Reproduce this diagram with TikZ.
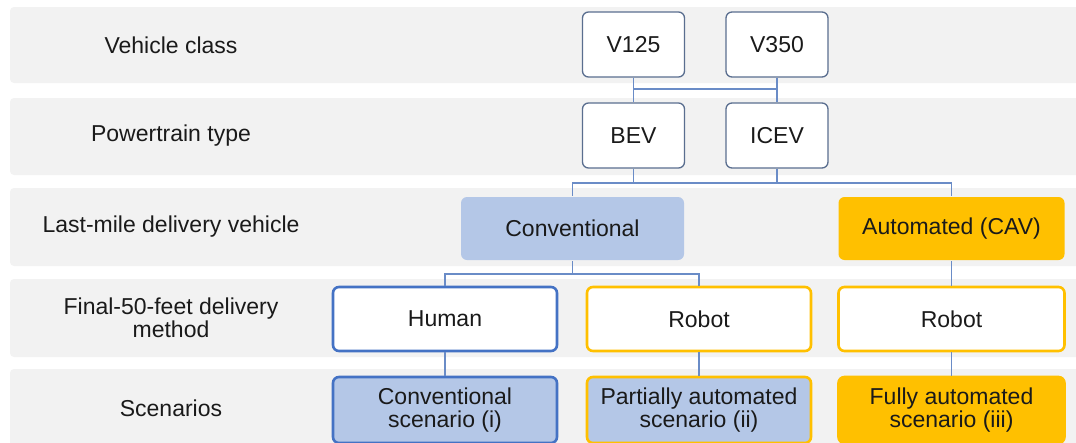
\documentclass[tikz,border=0pt]{standalone}
\usepackage{fontspec}
\setmainfont{Liberation Sans}
\definecolor{bandgray}{HTML}{F2F2F2}
\definecolor{blueline}{HTML}{4472C4}
\definecolor{lightblue}{HTML}{B4C7E7}
\definecolor{gold}{HTML}{FFC000}
\definecolor{slate}{HTML}{5A6E8F}
\definecolor{linkblue}{HTML}{6A8CC7}
\definecolor{ink}{HTML}{1A1A1A}

\begin{document}
\begin{tikzpicture}[x=1pt,y=-1pt,
  every node/.style={font=\fontsize{23}{23}\selectfont, text=ink, align=center, inner sep=0pt},
  band/.style={fill=bandgray, rounded corners=4pt},
  topbox/.style={draw=slate, line width=1.3pt, fill=white, rounded corners=6pt,
                 minimum width=102pt, minimum height=65pt},
  bigbox/.style={rounded corners=6pt, minimum width=224pt, minimum height=64pt, line width=2.6pt},
  link/.style={draw=linkblue, line width=1.3pt}
]
\useasboundingbox (0,0) rectangle (1076,442);

% row bands
\fill[band] (10,7)   rectangle (1095,83);
\fill[band] (10,98)  rectangle (1095,175);
\fill[band] (10,188) rectangle (1095,266);
\fill[band] (10,279) rectangle (1095,357);
\fill[band] (10,369) rectangle (1095,460);

% row labels
\node (lclass) at (171,45)  {Vehicle class};
\node (lpower) at (171,136) {Powertrain type};
\node (lveh)   at (171,227) {Last-mile delivery vehicle};
\node (lfinal) at (171,318) {Final-50-feet delivery\\method};
\node (lscen)  at (171,408) {Scenarios};

% junction heights
\coordinate (j1) at (0,89);
\coordinate (j2) at (0,183);
\coordinate (j3) at (0,274);

% vehicle class and powertrain
\node[topbox] (v125) at (633.5,44.5) {V125};
\node[topbox] (v350) at (777,44.5)   {V350};
\node[topbox] (bev)  at (633.5,135.5) {BEV};
\node[topbox] (icev) at (777,135.5)  {ICEV};

% last-mile vehicle
\node[bigbox, fill=lightblue, minimum width=223pt, minimum height=63pt] (conv) at (572.5,228.5) {Conventional};
\node[bigbox, fill=gold, minimum width=226pt, minimum height=63pt] (auto) at (951.5,228.5) {Automated (CAV)};

% final-50-feet method
\node[bigbox, draw=blueline, fill=white] (human) at (445,319) {Human};
\node[bigbox, draw=gold, fill=white] (robA) at (699,319) {Robot};
\node[bigbox, draw=gold, fill=white, minimum width=226pt] (robB) at (951.5,319) {Robot};

% scenarios
\node[bigbox, draw=blueline, fill=lightblue, minimum height=66pt] (scenA) at (445,410) {Conventional\\scenario (i)};
\node[bigbox, draw=gold, fill=lightblue, minimum height=66pt] (scenB) at (699,410) {Partially automated\\scenario (ii)};
\node[bigbox, draw=gold, fill=gold, minimum width=226pt, minimum height=66pt] (scenC) at (951.5,410) {Fully automated\\scenario (iii)};

% connectors
\draw[link] (v125.south) -- (bev.north);
\draw[link] (v350.south) -- (icev.north);
\draw[link] (v125.south |- j1) -- (v350.south |- j1);

\draw[link] (bev.south) -- (bev.south |- j2);
\draw[link] (icev.south) -- (icev.south |- j2);
\draw[link] (conv.north) |- (auto.north |- j2) -- (auto.north);

\draw[link] (conv.south) -- (conv.south |- j3);
\draw[link] (human.north) |- (robA.north |- j3) -- (robA.north);
\draw[link] (auto.south) -- (robB.north);

\draw[link] (human.south) -- (scenA.north);
\draw[link] (robA.south) -- (scenB.north);
\draw[link] (robB.south) -- (scenC.north);
\end{tikzpicture}
\end{document}
